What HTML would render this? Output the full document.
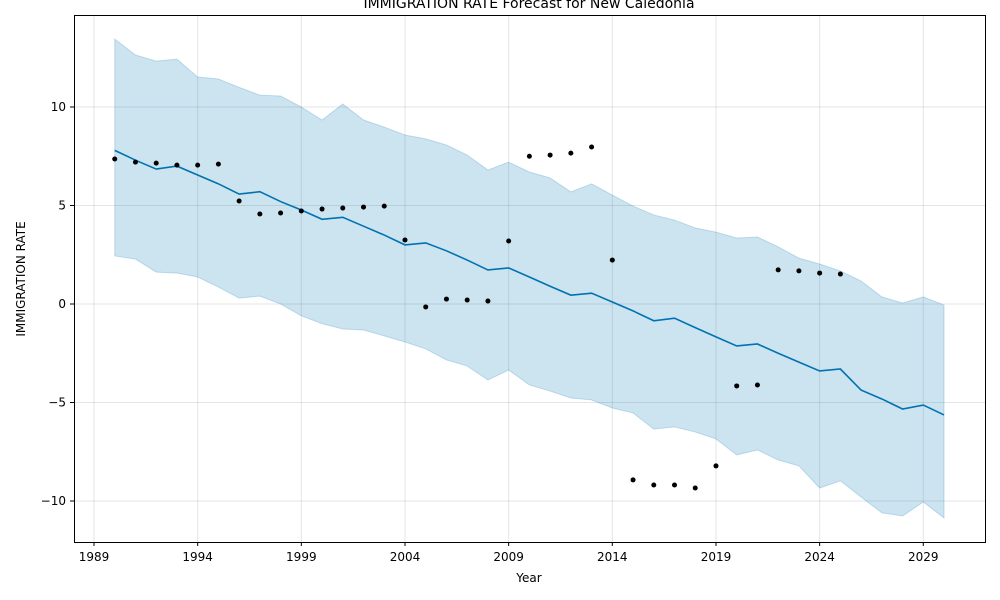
<!DOCTYPE html>
<html><head><meta charset="utf-8"><style>
html,body{margin:0;padding:0;background:#fff;}
svg{display:block;font-family:"DejaVu Sans","Liberation Sans",sans-serif;}
</style></head><body>
<svg id="chart" width="1000" height="600">
<rect x="0" y="0" width="1000" height="600" fill="#fff"/>
<text x="529" y="8" text-anchor="middle" font-size="14">IMMIGRATION RATE Forecast for New Caledonia</text>
<g id="grid"></g>
<g id="band"></g>
<g id="line"></g>
<g id="pts"></g>
<rect x="74.5" y="15.5" width="911" height="527" fill="none" stroke="#000" stroke-width="1"/>
<g id="axes"></g>
<text x="529" y="582" text-anchor="middle" font-size="12">Year</text>
<text transform="translate(25,279) rotate(-90)" text-anchor="middle" font-size="12">IMMIGRATION RATE</text>
</svg>
<script>
const actualYears=[1990,1991,1992,1993,1994,1995,1996,1997,1998,1999,2000,2001,2002,2003,2004,2005,2006,2007,2008,2009,2010,2011,2012,2013,2014,2015,2016,2017,2018,2019,2020,2021,2022,2023,2024,2025];
const actualValues=[7.36,7.2,7.15,7.05,7.05,7.1,5.23,4.57,4.62,4.72,4.82,4.87,4.92,4.97,3.25,-0.15,0.25,0.2,0.15,3.2,7.5,7.56,7.66,7.97,2.23,-8.93,-9.19,-9.19,-9.34,-8.22,-4.16,-4.11,1.73,1.68,1.57,1.52];
const fcYears=[1990,1991,1992,1993,1994,1995,1996,1997,1998,1999,2000,2001,2002,2003,2004,2005,2006,2007,2008,2009,2010,2011,2012,2013,2014,2015,2016,2017,2018,2019,2020,2021,2022,2023,2024,2025,2026,2027,2028,2029,2030];
const yhat=[7.8,7.3,6.85,7.0,6.55,6.1,5.58,5.7,5.2,4.77,4.3,4.4,3.95,3.5,3.0,3.1,2.7,2.23,1.73,1.83,1.37,0.9,0.45,0.55,0.1,-0.35,-0.85,-0.72,-1.2,-1.67,-2.13,-2.03,-2.5,-2.95,-3.4,-3.3,-4.37,-4.82,-5.33,-5.13,-5.63];
const yhatUpper=[13.45,12.64,12.33,12.43,11.52,11.42,11.0,10.6,10.56,10.0,9.34,10.15,9.34,8.98,8.58,8.38,8.07,7.56,6.8,7.2,6.7,6.4,5.69,6.1,5.53,4.97,4.52,4.26,3.86,3.65,3.35,3.4,2.9,2.33,2.03,1.68,1.17,0.36,0.05,0.36,-0.05];
const yhatLower=[2.44,2.28,1.62,1.57,1.37,0.86,0.3,0.4,0,-0.6,-1.0,-1.27,-1.32,-1.62,-1.93,-2.28,-2.84,-3.15,-3.86,-3.35,-4.11,-4.42,-4.77,-4.87,-5.28,-5.53,-6.35,-6.24,-6.5,-6.85,-7.66,-7.41,-7.92,-8.22,-9.34,-8.98,-9.8,-10.6,-10.76,-10.05,-10.86];
const xTicks=[1989,1994,1999,2004,2009,2014,2019,2024,2029];
const yTicks=[-10,-5,0,5,10];

const NS="http://www.w3.org/2000/svg";
const X=v=>94+(v-1989)*(923.3-94)/40;
const Y=v=>304-v*19.7;
function mk(tag,attrs,parent){const e=document.createElementNS(NS,tag);for(const k in attrs)e.setAttribute(k,attrs[k]);parent.appendChild(e);return e;}
const grid=document.getElementById('grid'),axes=document.getElementById('axes');
xTicks.forEach(t=>{
  const gl=mk('line',{x1:X(t),x2:X(t),y1:15,y2:542,stroke:'#000','stroke-opacity':0.1},grid);
  
  
  const tk=mk('line',{x1:X(t),x2:X(t),y1:542,y2:546,stroke:'#000'},axes);
  
  
  const tx=mk('text',{x:X(t),y:561,'text-anchor':'middle','font-size':12},axes);
  tx.textContent=t;
  
  
});
yTicks.forEach(t=>{
  const gl=mk('line',{x1:74,x2:985,y1:Y(t),y2:Y(t),stroke:'#000','stroke-opacity':0.1},grid);
  
  
  const tk=mk('line',{x1:70,x2:74,y1:Y(t),y2:Y(t),stroke:'#000'},axes);
  
  
  const tx=mk('text',{x:66,y:Y(t)+4,'text-anchor':'end','font-size':12},axes);
  tx.textContent=(t<0?'\u2212'+(-t):t);
  
  
});
let d='';
fcYears.forEach((yr,i)=>{d+=(i?'L':'M')+X(yr)+','+Y(yhatUpper[i]);});
for(let i=fcYears.length-1;i>=0;i--)d+='L'+X(fcYears[i])+','+Y(yhatLower[i]);
const band=mk('path',{d:d+'Z',fill:'#0072B2','fill-opacity':0.2,stroke:'#0072B2','stroke-opacity':0.2},document.getElementById('band'));


const ln=mk('polyline',{points:fcYears.map((yr,i)=>X(yr)+','+Y(yhat[i])).join(' '),fill:'none',stroke:'#0072B2','stroke-width':1.6},document.getElementById('line'));


const pts=document.getElementById('pts');
actualYears.forEach((yr,i)=>{
  const c=mk('circle',{cx:X(yr),cy:Y(actualValues[i]),r:2.5,fill:'#000'},pts);
  
  
});
</script>
</body></html>
